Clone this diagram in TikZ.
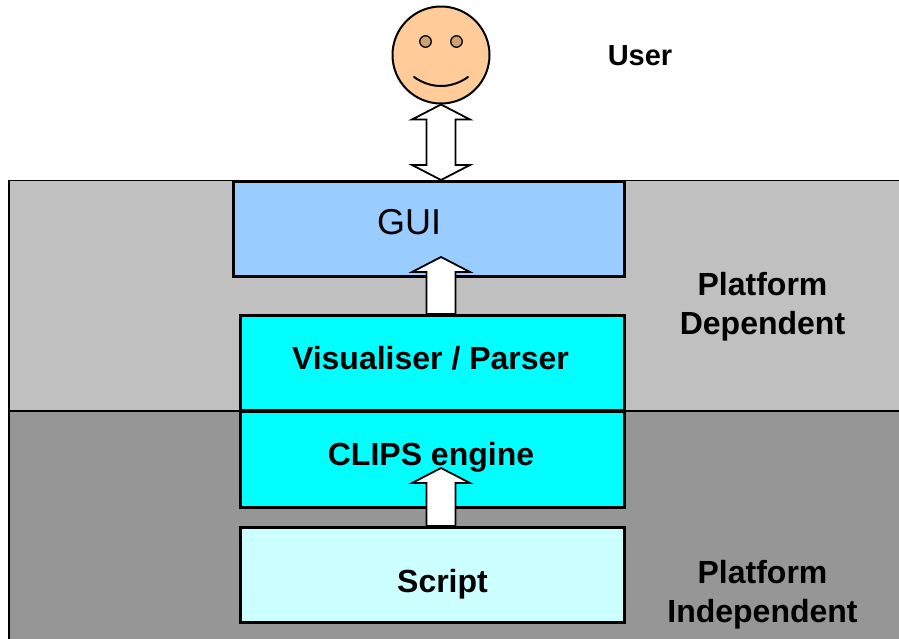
\documentclass[tikz,border=0pt]{standalone}
\usepackage{fontspec}
\setmainfont{Liberation Sans}
\usetikzlibrary{calc}
\definecolor{bandlight}{HTML}{C0C0C0}
\definecolor{banddark}{HTML}{969696}
\definecolor{guiblue}{HTML}{99CCFF}
\definecolor{enginecyan}{HTML}{00FFFF}
\definecolor{scriptcyan}{HTML}{CCFFFF}
\definecolor{skin}{HTML}{FFCC99}
\definecolor{eyefill}{HTML}{CDA172}
\tikzset{
  x=1pt,y=-1pt,
  band/.style={anchor=north west,draw=black,line width=1.3pt,inner sep=0pt,outer sep=0pt},
  layerbox/.style={anchor=north west,draw=black,line width=3pt,inner sep=0pt,outer sep=0pt},
  boldlabel/.style={font=\fontsize{32}{39}\selectfont\bfseries,align=center,inner sep=0pt},
  blockarrow/.style={draw=black,fill=white,line width=1.8pt,line join=miter},
  eye/.style={circle,draw=black,line width=1.3pt,fill=eyefill,minimum size=11.5pt,inner sep=0pt,outer sep=0pt},
}
% up arrow: #1 tip, #2 tail
\newcommand{\uparrowbetween}[2]{%
  \draw[blockarrow] let \p1=(#1),\p2=(#2) in
    (\x1,\y1) -- (\x1+29pt,\y1-15pt) -- (\x1+14.5pt,\y1-15pt) -- (\x1+14.5pt,\y2)
    -- (\x1-14.5pt,\y2) -- (\x1-14.5pt,\y1-15pt) -- (\x1-29pt,\y1-15pt) -- cycle;}
\begin{document}
\begin{tikzpicture}
\useasboundingbox (0,0) rectangle (899,638);
\fill[white] (0,0) rectangle (899,638);
% bands
\node[band,fill=bandlight,minimum width=895pt,minimum height=230.5pt] (upperband) at (9,180.5) {};
\node[band,fill=banddark,minimum width=895pt,minimum height=232pt] (lowerband) at (9,411) {};
\draw[line width=2pt] (upperband.north west) -- (lowerband.south west);
% boxes
\node[layerbox,fill=guiblue,minimum width=390.5pt,minimum height=94.5pt] (gui) at (233.5,181.5) {};
\node[layerbox,fill=enginecyan,minimum width=383.5pt,minimum height=94.5pt] (vis) at (240.5,315.5) {};
\node[layerbox,fill=enginecyan,minimum width=383.5pt,minimum height=95.5pt] (clips) at (240.5,411.5) {};
\node[layerbox,fill=scriptcyan,minimum width=383.5pt,minimum height=95pt] (script) at (240.5,527) {};
% face
\node[circle,draw=black,line width=2pt,fill=skin,minimum size=97pt,inner sep=0pt] (face) at (441,55) {};
\node[eye] (eyeL) at (425.5,41.5) {};
\node[eye] (eyeR) at (456.5,41.5) {};
\coordinate (smileL) at (414,77);
\coordinate (smileR) at (468,77);
\draw[line width=2pt,line cap=round] (smileL) .. controls (431,89) and (451,89) .. (smileR);
% arrows
\coordinate (faceTip) at (face.south);
\coordinate (guiTop) at (441,180);
\draw[blockarrow] let \p1=(faceTip),\p2=(guiTop) in
  (\x1,\y1) -- (\x1+29pt,\y1-15pt) -- (\x1+14.5pt,\y1-15pt) -- (\x1+14.5pt,\y2+15pt)
  -- (\x1+29pt,\y2+15pt) -- (\x2,\y2) -- (\x1-29pt,\y2+15pt) -- (\x1-14.5pt,\y2+15pt)
  -- (\x1-14.5pt,\y1-15pt) -- (\x1-29pt,\y1-15pt) -- cycle;
\coordinate (a2tip) at (441,257);
\coordinate (a2tail) at (441,314);
\uparrowbetween{a2tip}{a2tail}
\coordinate (a3tip) at (441,468);
\coordinate (a3tail) at (441,526);
\uparrowbetween{a3tip}{a3tail}
% labels
\node[font=\fontsize{36}{42}\selectfont] (guilabel) at (409,222) {GUI};
\node[boldlabel] (vislabel) at (430.5,358) {Visualiser / Parser};
\node[boldlabel] (clipslabel) at (431,457) {CLIPS engine};
\node[boldlabel] (scriptlabel) at (442.5,584) {Script};
\node[font=\fontsize{29}{34}\selectfont\bfseries,inner sep=0pt] (userlabel) at (640,56) {User};
\node[boldlabel] (pd) at (762.5,307) {Platform\\Dependent};
\node[boldlabel] (pi) at (762.5,595) {Platform\\Independent};
\end{tikzpicture}
\end{document}
